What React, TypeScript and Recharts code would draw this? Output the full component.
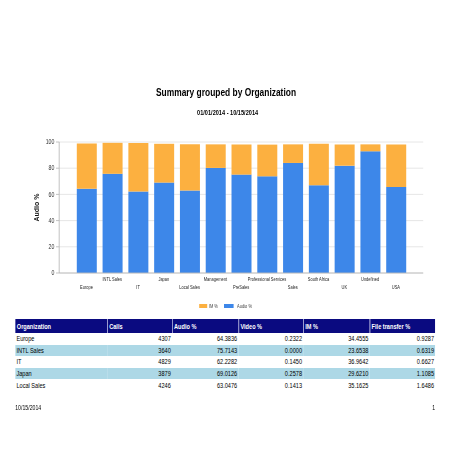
import { BarChart, Bar, XAxis, YAxis, CartesianGrid } from 'recharts';

// the report is drawn horizontally squeezed, so lay it out wide and scale it down
const SX = 0.8;
const BLUE = '#3d87e9';
const ORANGE = '#fcb040';

const organizations = [
  'Europe', 'INTL Sales', 'IT', 'Japan', 'Local Sales', 'Management', 'PreSales',
  'Professional Services', 'Sales', 'South Africa', 'UK', 'Undefined', 'USA',
];
const audioPct = [64.3836, 75.7143, 62.2282, 69.0126, 63.0476, 80.2, 75.1, 73.8, 84.0, 66.9, 81.9, 92.9, 65.6];
const imPct = [34.4555, 23.6538, 36.9642, 29.621, 35.1625, 18.0, 23.0, 24.2, 14.2, 31.8, 16.2, 5.3, 32.5];
const yTicks = [0, 20, 40, 60, 80, 100];

const tableHeaders = ['Organization', 'Calls', 'Audio %', 'Video %', 'IM %', 'File transfer %'];
const tableOrgs = ['Europe', 'INTL Sales', 'IT', 'Japan', 'Local Sales'];
const tableCalls = [4307, 3640, 4829, 3879, 4246];
const tableAudio = [64.3836, 75.7143, 62.2282, 69.0126, 63.0476];
const tableVideo = [0.2322, 0.0, 0.145, 0.2578, 0.1413];
const tableIm = [34.4555, 23.6538, 36.9642, 29.621, 35.1625];
const tableFile = [0.9287, 0.6319, 0.6627, 1.1085, 1.6486];
const colWidths = [115, 81, 83, 81, 83, 82];

const chartData = organizations.map((name, i) => ({ name, audio: audioPct[i], im: imPct[i] }));

const OrgTick = (props: any) => {
  const { x, y, payload } = props;
  const idx = organizations.indexOf(payload.value);
  const dy = idx % 2 === 1 ? 8.5 : 16.5;
  return (
    <text x={x} y={y + dy} textAnchor="middle" fontSize={5} fill="#222">
      {payload.value}
    </text>
  );
};

const AxisTitle = (props: any) => {
  const vb = props.viewBox || { x: 0, y: 12, width: 74, height: 131 };
  const cx = 46;
  const cy = vb.y + vb.height / 2;
  return (
    <text
      x={cx}
      y={cy}
      transform={`rotate(-90 ${cx} ${cy})`}
      textAnchor="middle"
      dominantBaseline="central"
      fontSize={9}
      fontWeight="bold"
      fill="#111"
      textLength={28}
      lengthAdjust="spacingAndGlyphs"
    >
      Audio %
    </text>
  );
};

const cellNum = (v: number) => v.toFixed(4);

const App = () => {
  const rows = tableOrgs.map((org, i) => [
    org,
    String(tableCalls[i]),
    cellNum(tableAudio[i]),
    cellNum(tableVideo[i]),
    cellNum(tableIm[i]),
    cellNum(tableFile[i]),
  ]);

  return (
    <div style={{ position: 'absolute', left: 0, top: 0, width: 452, height: 452, overflow: 'hidden', background: '#fff' }}>
      <div
        style={{
          position: 'relative',
          width: 565,
          height: 452,
          transform: `scaleX(${SX})`,
          transformOrigin: '0 0',
          fontFamily: '"Liberation Sans", Arial, sans-serif',
          color: '#000',
        }}
      >
        <div style={{ position: 'absolute', left: 0, top: 86, width: 565, height: 12, lineHeight: '12px', textAlign: 'center', fontSize: 10.5, fontWeight: 'bold' }}>
          Summary grouped by Organization
        </div>
        <div style={{ position: 'absolute', left: 2, top: 106.5, width: 565, height: 12, lineHeight: '12px', textAlign: 'center', fontSize: 7, fontWeight: 'bold' }}>
          01/01/2014 - 10/15/2014
        </div>

        <div style={{ position: 'absolute', left: 0, top: 130 }}>
          <BarChart width={565} height={170} data={chartData} margin={{ top: 12, right: 36, left: 0, bottom: 0 }}>
            <CartesianGrid vertical={false} stroke="#e3e3e3" />
            <XAxis
              dataKey="name"
              interval={0}
              tick={<OrgTick />}
              tickLine={false}
              tickSize={0}
              tickMargin={0}
              height={27}
              axisLine={{ stroke: '#bbb' }}
              padding={{ left: 18, right: 18 }}
            />
            <YAxis
              domain={[0, 100]}
              ticks={yTicks}
              interval={0}
              width={74}
              tickSize={4}
              tickMargin={2}
              axisLine={{ stroke: '#bbb' }}
              tickLine={{ stroke: '#bbb' }}
              tick={{ fontSize: 6.5, fill: '#333' }}
              label={<AxisTitle />}
            />
            <Bar dataKey="audio" name="Audio %" stackId="a" fill={BLUE} barSize={25} isAnimationActive={false} />
            <Bar dataKey="im" name="IM %" stackId="a" fill={ORANGE} barSize={25} isAnimationActive={false} />
          </BarChart>
        </div>

        <div style={{ position: 'absolute', left: 249, top: 301, height: 10, display: 'flex', alignItems: 'center', fontSize: 5, color: '#444' }}>
          <span style={{ width: 10, height: 4, background: ORANGE, marginRight: 2 }} />
          <span style={{ marginRight: 8 }}>IM %</span>
          <span style={{ width: 12, height: 4, background: BLUE, marginRight: 4 }} />
          <span>Audio %</span>
        </div>

        <table
          style={{
            position: 'absolute',
            left: 19,
            top: 319,
            width: 525,
            borderCollapse: 'collapse',
            tableLayout: 'fixed',
            fontSize: 7,
          }}
        >
          <colgroup>
            {colWidths.map((w, i) => (
              <col key={i} style={{ width: w }} />
            ))}
          </colgroup>
          <thead>
            <tr style={{ height: 14, background: '#0a0a80', color: '#fff' }}>
              {tableHeaders.map((h, i) => (
                <th
                  key={h}
                  style={{
                    textAlign: 'left',
                    fontWeight: 'bold',
                    padding: '0 2px',
                    borderLeft: i > 0 ? '1px solid #b8b8e0' : 'none',
                    whiteSpace: 'nowrap',
                  }}
                >
                  {h}
                </th>
              ))}
            </tr>
          </thead>
          <tbody>
            {rows.map((r, ri) => (
              <tr key={ri} style={{ height: 11.6, background: ri % 2 === 1 ? '#add8e6' : '#fff' }}>
                {r.map((c, ci) => (
                  <td
                    key={ci}
                    style={{
                      textAlign: ci === 0 ? 'left' : 'right',
                      padding: '0 1.5px',
                      whiteSpace: 'nowrap',
                      lineHeight: '11px',
                    }}
                  >
                    {c}
                  </td>
                ))}
              </tr>
            ))}
          </tbody>
        </table>

        <div style={{ position: 'absolute', left: 19, top: 402, fontSize: 6.5, lineHeight: '12px' }}>10/15/2014</div>
        <div style={{ position: 'absolute', right: 21, top: 402, fontSize: 6.5, lineHeight: '12px' }}>1</div>
      </div>
    </div>
  );
};

export default App;
